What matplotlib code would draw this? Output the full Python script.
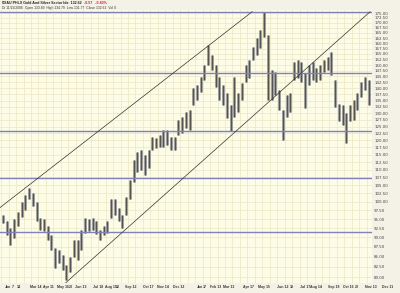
import matplotlib
matplotlib.use("Agg")
import matplotlib.pyplot as plt
from matplotlib.ticker import FixedLocator, NullLocator

# ===== DATA: weekly high / low of $XAU =====
weeks = list(range(99))
week_high = [96.3, 94.4, 92.6, 94.9, 97.1, 99.8, 101.9, 104.3, 102.5, 99.8,
             95.4, 94.9, 93.2, 90.7, 87.3, 86.8, 85.5, 83.0, 85.0, 89.4,
             89.4, 92.1, 95.4, 94.9, 95.4, 94.4, 92.1, 93.2, 94.4, 100.7,
             100.7, 98.3, 96.3, 101.3, 106.8, 113.3, 116.0, 116.7, 115.0, 116.7,
             121.3, 121.0, 122.0, 123.8, 123.8, 121.3, 121.3, 127.5, 128.7, 130.6,
             131.4, 140.2, 141.5, 144.8, 150.1, 159.2, 154.6, 150.1, 144.8, 141.5,
             138.1, 133.3, 144.8, 138.1, 142.3, 150.1, 152.3, 158.3, 162.6, 166.4,
             175.5, 164.0, 147.9, 147.0, 139.4, 131.4, 137.3, 138.1, 151.4, 152.3,
             151.4, 146.6, 150.1, 151.4, 148.8, 150.1, 152.3, 153.7, 156.0, 143.6,
             133.7, 133.3, 130.2, 133.3, 135.3, 138.1, 142.7, 144.8, 143.6]
week_low = [93.9, 90.7, 88.1, 89.9, 93.2, 95.7, 97.7, 100.7, 98.9, 94.4,
            92.1, 91.6, 89.4, 86.8, 82.2, 83.4, 81.8, 79.4, 81.1, 85.0,
            84.2, 86.8, 91.2, 91.6, 92.1, 91.0, 89.4, 90.5, 91.2, 95.4,
            96.3, 94.4, 92.6, 96.3, 100.7, 106.1, 109.4, 110.0, 108.4, 110.7,
            116.7, 117.4, 117.8, 117.8, 118.5, 116.7, 116.7, 122.0, 122.7, 124.5,
            123.8, 133.3, 135.3, 138.6, 143.6, 150.1, 147.9, 140.7, 135.3, 133.3,
            128.2, 123.3, 128.7, 130.6, 135.3, 142.7, 144.4, 152.3, 154.6, 157.8,
            163.0, 135.3, 135.3, 137.3, 131.4, 120.2, 128.7, 130.6, 143.6, 144.4,
            142.7, 132.1, 141.5, 143.6, 142.7, 143.6, 147.0, 147.9, 145.7, 132.5,
            126.9, 125.7, 119.2, 126.9, 127.5, 131.4, 136.5, 139.4, 133.3]

# horizontal support / resistance lines
hline_prices = [175.7, 146.4, 123.4, 107.2, 91.5]

# trend channel (week, price)
upper_week = [-0.8, 66.8]
upper_price = [98.3, 175.7]
lower_week = [16.6, 98.4]
lower_price = [78.5, 175.7]

# right axis labels
price_ticks = [80 + 2.5 * i for i in range(39)]

# bottom date labels (week position, text)
date_pos = [0.5, 2.4, 3.8, 7.2, 10.7, 14.4, 17.7, 19.4, 24.1, 27.4, 30.3, 32.6,
            37.5, 41.3, 45.6, 52.0, 53.6, 55.5, 59.0, 64.3, 68.4, 73.5, 77.0,
            79.6, 82.3, 87.1, 91.2, 94.4, 97.0, 101.6]
date_txt = ["Jan", "7", "14", "Mar 14", "Apr 11", "May 16", "23", "Jun 13", "Jul 18",
            "Aug 15", "22", "Sep 12", "Oct 17", "Nov 14", "Dec 12",
            "Jan", "17", "Feb 13", "Mar 13", "Apr 17", "May 15", "Jun 12", "19",
            "Jul 17", "Aug 14", "Sep 18", "Oct 16", "23", "Nov 13", "Dec 11"]

# ===== FIGURE =====
fig = plt.figure(figsize=(4.0, 2.93), dpi=100, facecolor="#f4f2e6")
ax = fig.add_axes([0.0, 0.034, 0.93, 0.932])
ax.set_facecolor("#fdfce6")

ax.set_yscale("log")
ax.set_xlim(-0.8, 98.9)
ax.set_ylim(78.6, 176.6)

# grid
ax.yaxis.set_major_locator(FixedLocator(price_ticks))
ax.yaxis.set_minor_locator(NullLocator())
ax.set_yticklabels(["%.2f" % p for p in price_ticks])
ax.set_xticks([w + 0.5 for w in range(-1, 99, 2)])
ax.set_xticklabels([])
ax.grid(True, color="#ebe6c4", linewidth=0.5)
ax.set_axisbelow(True)
ax.yaxis.tick_right()
ax.tick_params(axis="y", length=0, pad=1.5, labelsize=2.9, labelcolor="#444444")
ax.tick_params(axis="x", length=0)
for s in ax.spines.values():
    s.set_visible(False)

# price bars: wide light weekly range bars with a thin dark core
ax.vlines(weeks, week_low, week_high, color="#8c8c8c", linewidth=1.9)
ax.vlines(weeks, week_low, week_high, color="#3c3c3c", linewidth=0.5)

# horizontal lines
for p in hline_prices:
    ax.axhline(p, color="#8080bb", linewidth=1.0)

# trend channel
ax.plot(upper_week, upper_price, color="#333333", linewidth=0.5)
ax.plot(lower_week, lower_price, color="#333333", linewidth=0.5)

# date labels
for w, t in zip(date_pos, date_txt):
    fig.text((3 + 3.73 * w) / 400, 0.012, t, fontsize=2.5, color="#333333",
             ha="left", va="bottom", fontweight="bold", family="Liberation Sans")

# header
fig.text(0.005, 0.997, "$XAU PHLX Gold And Silver Sector Idx  132.62", fontsize=2.6,
         ha="left", va="top", fontweight="bold", color="#222222", family="Liberation Sans")
fig.text(0.21, 0.997, "-0.57   -0.43%", fontsize=2.6, ha="left", va="top",
         fontweight="bold", color="#cc2222", family="Liberation Sans")
fig.text(0.005, 0.979, "Di 11/29/2006  Open 133.89  High 134.79  Low 131.77  Close 132.62  Vol 0",
         fontsize=2.4, ha="left", va="top", color="#333333", family="Liberation Sans")

fig.savefig("out.png", dpi=100, facecolor=fig.get_facecolor())
